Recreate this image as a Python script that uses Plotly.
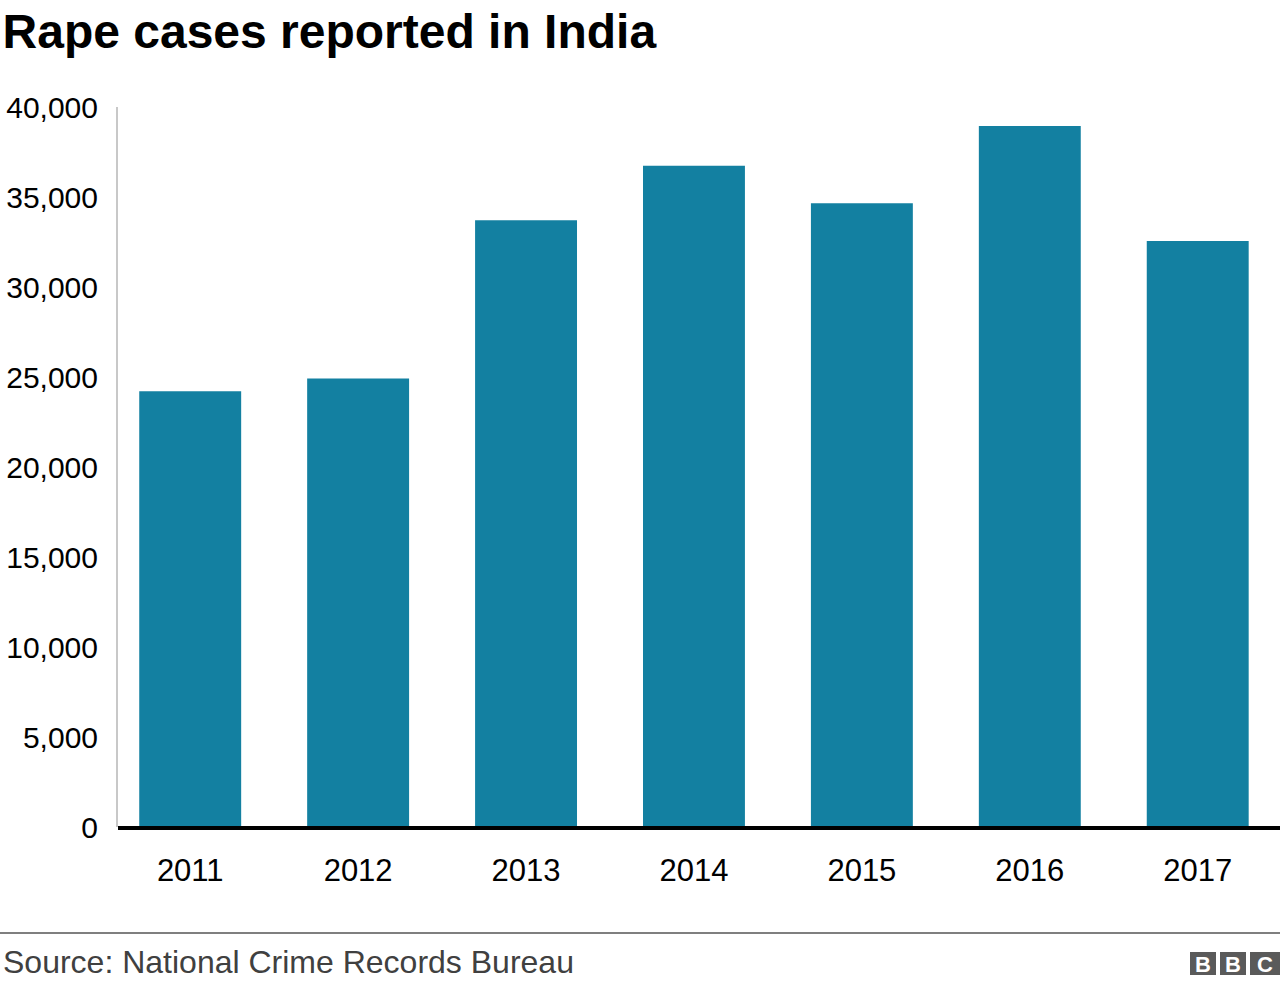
import plotly.graph_objects as go

years = ["2011", "2012", "2013", "2014", "2015", "2016", "2017"]
cases = [24206, 24923, 33707, 36735, 34651, 38947, 32559]
y_ticks = [0, 5000, 10000, 15000, 20000, 25000, 30000, 35000, 40000]
y_tick_labels = ["0", "5,000", "10,000", "15,000", "20,000", "25,000", "30,000", "35,000", "40,000"]

FONT = "Liberation Sans, Arial, Helvetica, sans-serif"
W, H = 1280, 988
L, R, T, B = 118, 0, 107, 161
pw, ph = W - L - R, H - T - B

fig = go.Figure()
fig.add_trace(go.Bar(x=years, y=cases, marker=dict(color="#1380A1", line=dict(width=0)),
                     width=0.607, hoverinfo="x+y"))

def px_x(p):
    return (p - L) / pw

def px_y(p):
    return (H - B - p) / ph

shapes = [
    # zero baseline
    dict(type="line", xref="paper", yref="paper", x0=0, x1=1, y0=px_y(828), y1=px_y(828),
         line=dict(color="#000000", width=4), layer="above"),
    # footer divider
    dict(type="line", xref="paper", yref="paper", x0=px_x(0), x1=px_x(1280),
         y0=px_y(933), y1=px_y(933), line=dict(color="#7f7f7f", width=2)),
]
annotations = [
    dict(text="Source: National Crime Records Bureau", xref="paper", yref="paper",
         x=px_x(1), y=px_y(962), xanchor="left", yanchor="middle", showarrow=False,
         font=dict(family=FONT, size=32, color="#404040")),
]
# BBC logo blocks
boxes = [(1190, 1216), (1220, 1246), (1250, 1280)]
for (x0, x1), letter in zip(boxes, ["B", "B", "C"]):
    shapes.append(dict(type="rect", xref="paper", yref="paper", x0=px_x(x0), x1=px_x(x1),
                       y0=px_y(975), y1=px_y(952), fillcolor="#5a5a5a", line=dict(width=0)))
    annotations.append(dict(text="<b>%s</b>" % letter, xref="paper", yref="paper",
                            x=px_x((x0 + x1) / 2), y=px_y(964), xanchor="center", yanchor="middle",
                            showarrow=False, font=dict(family=FONT, size=22, color="#ffffff")))

fig.update_layout(
    width=W, height=H,
    margin=dict(l=L, r=R, t=T, b=B, pad=0, autoexpand=False),
    paper_bgcolor="white", plot_bgcolor="white",
    showlegend=False,
    title=dict(text="<b>Rape cases reported in India</b>", xref="container", yref="container",
               x=0.002, xanchor="left", y=1 - 31 / H, yanchor="middle",
               font=dict(family=FONT, size=48, color="#000000")),
    font=dict(family=FONT),
    shapes=shapes,
    annotations=annotations,
    xaxis=dict(range=[-0.43, 6.49], showgrid=False, showline=False, zeroline=False,
               ticks="", tickfont=dict(family=FONT, size=31, color="#000000"),
               ticklabelstandoff=22, fixedrange=True, automargin=False),
    yaxis=dict(range=[0, 40000], tickvals=y_ticks, ticktext=y_tick_labels,
               showgrid=False, zeroline=False, showline=True, linecolor="#c8c8c8", linewidth=2,
               ticks="", ticklabelstandoff=12, automargin=False,
               tickfont=dict(family=FONT, size=30, color="#000000"), fixedrange=True),
    bargap=0.393,
)

fig.write_html("out.html", config={"displayModeBar": False})
